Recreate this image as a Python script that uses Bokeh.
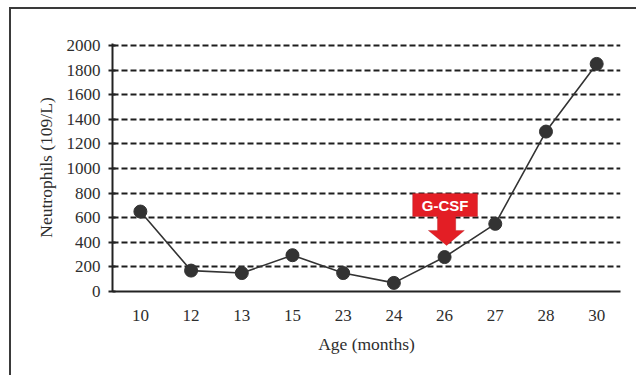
from bokeh.plotting import figure
from bokeh.models import Range1d, FixedTicker, PolyAnnotation, Label
from bokeh.embed import file_html
from bokeh.resources import INLINE

ages = ["10", "12", "13", "15", "23", "24", "26", "27", "28", "30"]
neutrophils = [650, 170, 150, 295, 150, 70, 280, 550, 1300, 1850]
y_ticks = [0, 200, 400, 600, 800, 1000, 1200, 1400, 1600, 1800, 2000]
arrow_label = "G-CSF"
arrow_age = "26"

xs = list(range(len(ages)))

p = figure(width=627, height=368, output_backend="svg", toolbar_location=None,
           x_range=Range1d(-0.55, 9.47), y_range=Range1d(0, 2016),
           min_border_left=101, min_border_right=18, min_border_top=34, min_border_bottom=86)
p.styles = {"margin-left": "9px", "margin-top": "7px",
            "border-top": "2px solid #3a3a3a", "border-left": "2px solid #3a3a3a"}
p.outline_line_color = None
p.background_fill_color = "white"
p.border_fill_color = "white"

# axes
p.xaxis.ticker = FixedTicker(ticks=xs)
p.xaxis.major_label_overrides = {i: a for i, a in enumerate(ages)}
p.xaxis.major_tick_out = 0
p.xaxis.major_tick_in = 0
p.xaxis.minor_tick_line_color = None
p.xaxis.major_label_standoff = 18
p.xaxis.axis_line_width = 2
p.xaxis.axis_line_color = "#222222"
p.xaxis.axis_label = "Age (months)"

p.yaxis.ticker = FixedTicker(ticks=y_ticks)
p.yaxis.major_tick_out = 4
p.yaxis.major_tick_in = 3
p.yaxis.major_tick_line_width = 2
p.yaxis.major_tick_line_color = "#222222"
p.yaxis.minor_tick_line_color = None
p.yaxis.major_label_standoff = 8
p.yaxis.axis_line_width = 2
p.yaxis.axis_line_color = "#222222"
p.yaxis.axis_label = "Neutrophils (109/L)"

for ax in (p.xaxis, p.yaxis):
    ax.major_label_text_font = "Liberation Serif"
    ax.major_label_text_font_size = "17px"
    ax.major_label_text_color = "#2e2e2e"
    ax.axis_label_text_font = "Liberation Serif"
    ax.axis_label_text_font_size = "17.5px"
    ax.axis_label_text_font_style = "normal"
    ax.axis_label_text_color = "#2e2e2e"
p.xaxis.axis_label_standoff = 10
p.yaxis.axis_label_standoff = 8

# grid
p.xgrid.grid_line_color = None
p.ygrid.ticker = FixedTicker(ticks=y_ticks[1:])
p.ygrid.grid_line_color = "#1e1e1e"
p.ygrid.grid_line_width = 2
p.ygrid.grid_line_dash = "6 3"

# data
p.line(xs, neutrophils, line_color="#333333", line_width=1.6)
p.scatter(xs, neutrophils, size=13, fill_color="#333333", line_color="#333333")

# G-CSF arrow annotation anchored at the 26-month point
c = ages.index(arrow_age)
arrow_x = [c - 0.63, c + 0.65, c + 0.65, c + 0.22, c + 0.22, c + 0.39,
           c + 0.04, c - 0.32, c - 0.14, c - 0.14, c - 0.63]
arrow_y = [797, 797, 610, 610, 496, 496, 374, 496, 496, 610, 610]
p.add_layout(PolyAnnotation(xs=arrow_x, ys=arrow_y, fill_color="#e31e25", fill_alpha=1.0,
                            line_color="#a8141b", line_width=1))
p.add_layout(Label(x=c + 0.01, y=703, text=arrow_label, text_color="white",
                   text_font="Liberation Sans", text_font_style="bold",
                   text_font_size="15px", text_align="center", text_baseline="middle"))

open("out.html", "w").write(file_html(p, INLINE))
